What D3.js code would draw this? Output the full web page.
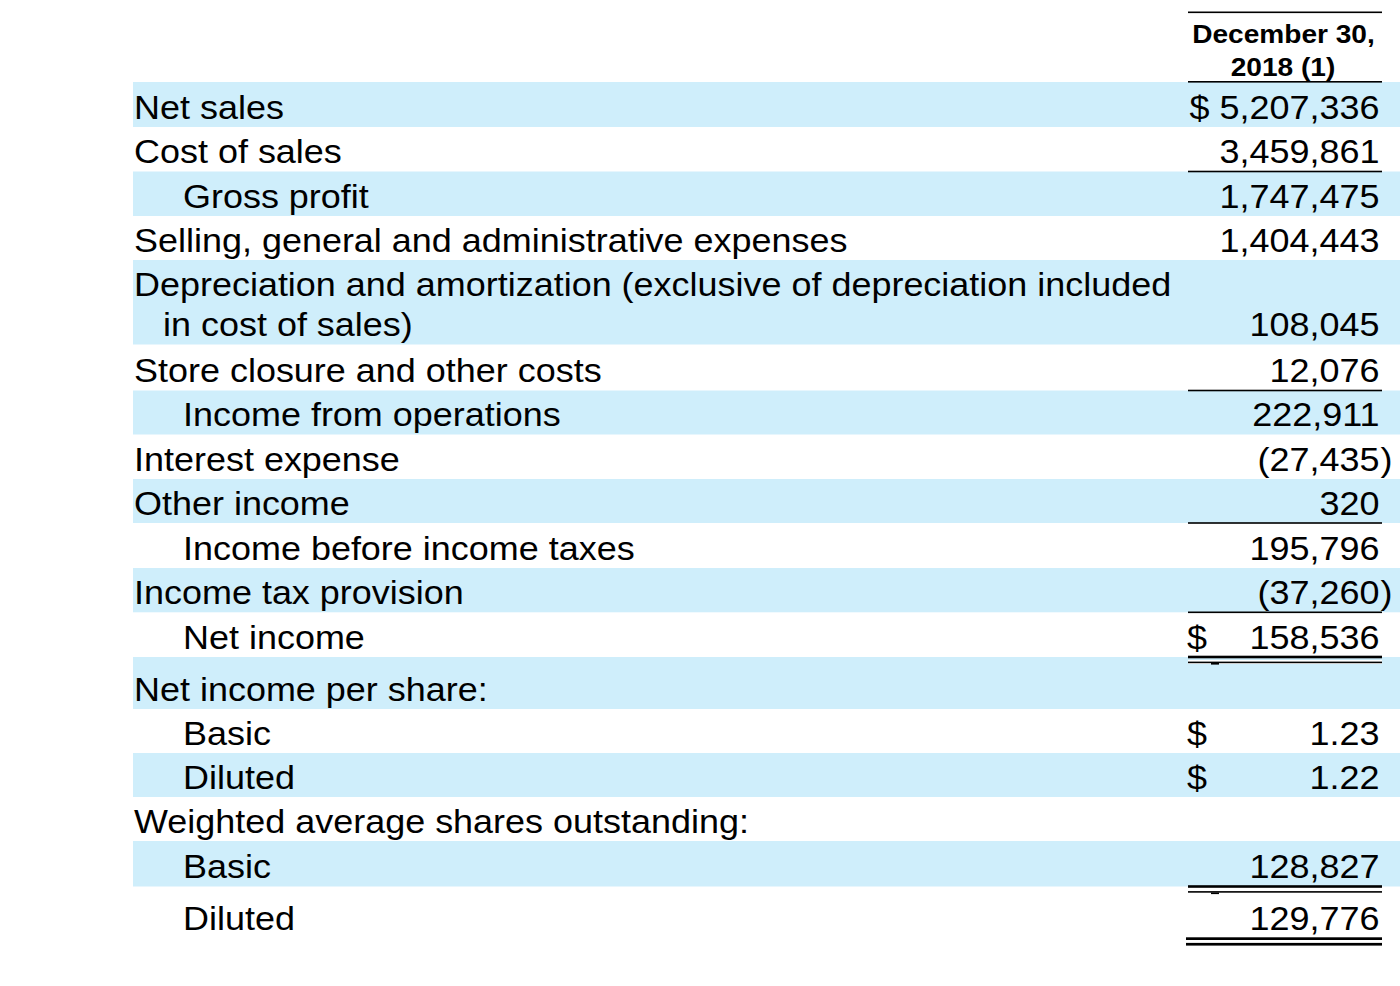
<!DOCTYPE html>
<html>
<head>
<meta charset="utf-8">
<script src="https://cdn.jsdelivr.net/npm/d3@7"></script>
<style>
  html, body { margin: 0; padding: 0; background: #ffffff; }
  svg { display: block; }
  text { font-family: "Liberation Sans", Arial, sans-serif; fill: #000; }
</style>
</head>
<body>
<svg id="chart" width="1400" height="986"></svg>
<script>
// ---------- data ----------
const headerLines = ["December 30,", "2018 (1)"];
const labels = [
  ["Net sales"],
  ["Cost of sales"],
  ["Gross profit"],
  ["Selling, general and administrative expenses"],
  ["Depreciation and amortization (exclusive of depreciation included", "in cost of sales)"],
  ["Store closure and other costs"],
  ["Income from operations"],
  ["Interest expense"],
  ["Other income"],
  ["Income before income taxes"],
  ["Income tax provision"],
  ["Net income"],
  ["Net income per share:"],
  ["Basic"],
  ["Diluted"],
  ["Weighted average shares outstanding:"],
  ["Basic"],
  ["Diluted"]
];
const indents = [0, 0, 1, 0, 0, 0, 1, 0, 0, 1, 0, 1, 0, 1, 1, 0, 1, 1];
const values = [5207336, 3459861, 1747475, 1404443, 108045, 12076, 222911, -27435, 320,
                195796, -37260, 158536, null, 1.23, 1.22, null, 128827, 129776];
const dollarSigns = ["inline", null, null, null, null, null, null, null, null,
                     null, null, "left", null, "left", "left", null, null, null];
const decimals = [0, 0, 0, 0, 0, 0, 0, 0, 0, 0, 0, 0, 0, 2, 2, 0, 0, 0];
const underlines = [null, "single", null, null, null, "single", null, null, "single",
                    null, "single", "double", null, null, null, null, "double", "doubleBold"];

// ---------- layout ----------
const rowEdges = [82, 127, 171.5, 216, 260, 344.5, 390.5, 434.5, 479, 523, 568, 612.3,
                  657, 709, 753, 797, 841, 886.5, 938.5];
const W = 1400, H = 986;
const bandX = 133;
const colL = 1188, colR = 1382;
const valRight = 1379.5;
const FS = 33, SX = 1.09;
const blue = "#CFEEFB";

const svg = d3.select("#chart");

const rows = labels.map((lab, i) => ({
  i, lab, indent: indents[i], value: values[i], dollar: dollarSigns[i],
  dec: decimals[i], ul: underlines[i], top: rowEdges[i], bottom: rowEdges[i + 1]
}));

// y scale over row index edges
const yTop = d3.scaleOrdinal().domain(d3.range(rows.length)).range(rowEdges.slice(0, -1));
const yBot = d3.scaleOrdinal().domain(d3.range(rows.length)).range(rowEdges.slice(1));
const xIndent = d3.scaleOrdinal().domain([0, 1, 2]).range([134, 183, 163]);

// bands
svg.append("g").selectAll("rect")
  .data(rows.filter(r => r.i % 2 === 0))
  .join("rect")
  .attr("x", bandX)
  .attr("y", r => yTop(r.i))
  .attr("width", W - bandX)
  .attr("height", r => yBot(r.i) - yTop(r.i))
  .attr("fill", blue);

function txt(g, str, x, y, anchor, opts = {}) {
  const sx = opts.sx || SX;
  return g.append("text")
    .attr("transform", `translate(${x},${y}) scale(${sx},1)`)
    .attr("text-anchor", anchor)
    .style("font-size", (opts.fs || FS) + "px")
    .style("font-weight", opts.bold ? "bold" : "normal")
    .text(str);
}

// header
const hg = svg.append("g");
txt(hg, headerLines[0], 1283.5, 43, "middle", { fs: 26, sx: 1.08, bold: true });
txt(hg, headerLines[1], 1283, 75.5, "middle", { fs: 26, sx: 1.08, bold: true });
hg.append("rect").attr("x", colL).attr("y", 11.5).attr("width", colR - colL).attr("height", 1.6).attr("fill", "#000");
hg.append("rect").attr("x", colL).attr("y", 81).attr("width", colR - colL).attr("height", 1.6).attr("fill", "#000");

// labels
const lg = svg.append("g");
rows.forEach(r => {
  const bl = yBot(r.i) - 8.5;
  if (r.lab.length === 1) {
    txt(lg, r.lab[0], xIndent(r.indent), bl, "start");
  } else {
    txt(lg, r.lab[0], xIndent(r.indent), yTop(r.i) + 36, "start");
    txt(lg, r.lab[1], xIndent(2), bl, "start");
  }
});

// values
const fmtInt = d3.format(",");
const fmtDec = d3.format(".2f");
const vg = svg.append("g");
rows.forEach(r => {
  if (r.value === null) return;
  const bl = yBot(r.i) - 8.5;
  let s = r.dec ? fmtDec(Math.abs(r.value)) : fmtInt(Math.abs(r.value));
  if (r.value < 0) {
    s = "(" + s;
    txt(vg, ")", valRight + 1, bl, "start");
  }
  if (r.dollar === "inline") s = "$ " + s;
  txt(vg, s, valRight, bl, "end");
  if (r.dollar === "left") txt(vg, "$", colL - 1, bl, "start");
});

// underlines
const ug = svg.append("g");
rows.forEach(r => {
  const y = yBot(r.i);
  if (r.ul === "single") {
    ug.append("rect").attr("x", colL).attr("y", y - 0.8).attr("width", colR - colL).attr("height", 1.6).attr("fill", "#000");
  } else if (r.ul === "double") {
    ug.append("rect").attr("x", colL).attr("y", y + 3).attr("width", colR - colL).attr("height", 4).attr("fill", "#fff");
    ug.append("rect").attr("x", colL).attr("y", y - 1.3).attr("width", colR - colL).attr("height", 2.6).attr("fill", "#000");
    ug.append("rect").attr("x", colL).attr("y", y + 4.6).attr("width", colR - colL).attr("height", 1.6).attr("fill", "#000");
    ug.append("rect").attr("x", 1211).attr("y", y + 6).attr("width", 8).attr("height", 1.6).attr("fill", "#000");
  } else if (r.ul === "doubleBold") {
    ug.append("rect").attr("x", colL - 2).attr("y", y - 1.2).attr("width", colR - colL + 2).attr("height", 2.7).attr("fill", "#000");
    ug.append("rect").attr("x", colL - 2).attr("y", y + 4.4).attr("width", colR - colL + 2).attr("height", 2.7).attr("fill", "#000");
  }
});
</script>
</body>
</html>
